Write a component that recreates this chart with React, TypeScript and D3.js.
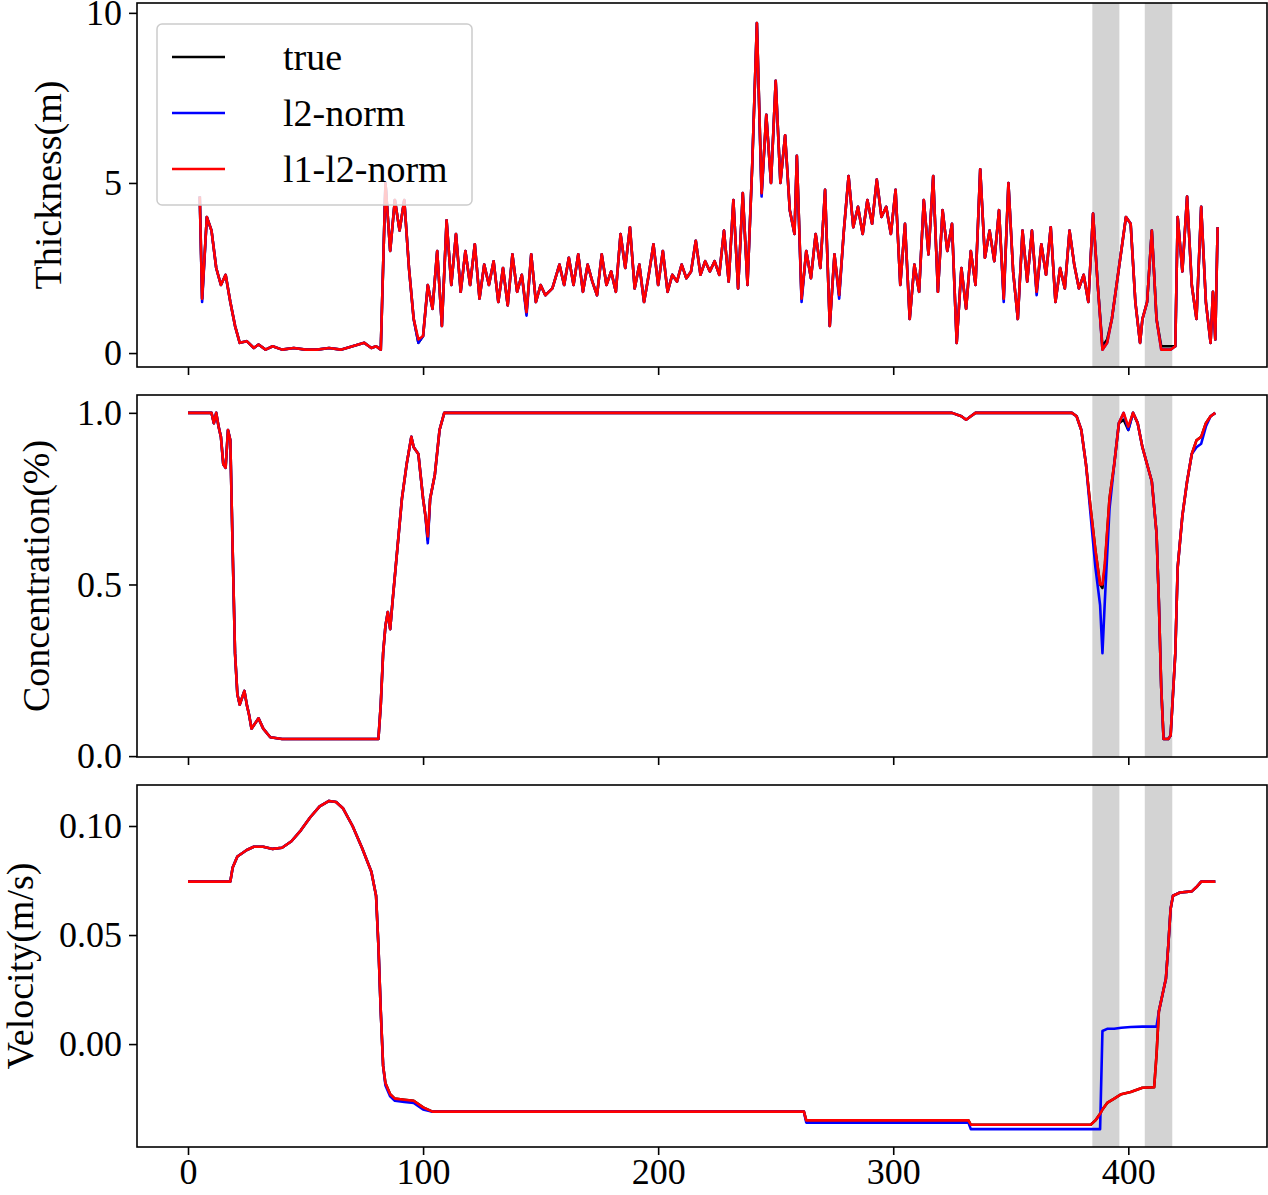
import { useEffect, useRef } from "react";
import * as d3 from "d3";

// thickness (m)
const thickX = [5,6,8,10,12,14,16,18,20,22,25,28,30,33,36,40,45,50,55,60,65,70,75,78,80,82,84,86,88,90,92,94,96,98,100,102,104,106,108,110,112,114,116,118,120,122,124,126,128,130,132,134,136,138,140,142,144,146,148,150,152,155,158,160,162,164,166,168,170,172,174,176,178,180,182,184,186,188,190,192,194,196,198,200,202,204,206,208,210,212,214,216,218,220,222,224,226,228,230,232,234,236,238,240,242,244,246,248,250,252,254,256,258,259,261,263,265,267,269,271,273,275,277,279,281,283,285,287,289,291,293,295,297,299,301,303,305,307,309,311,313,315,317,319,321,323,325,327,329,331,333,335,337,339,341,343,345,347,349,351,353,355,357,359,361,363,365,367,369,371,373,375,377,379,381,383,385,387,389,391,393,395,397,399,401,403,405,406,408,410,412,414,416,418,420,421,423,425,427,429,431,433,435,436,437,438];
const thickTrue = [4.6,1.6,4.0,3.6,2.5,2.0,2.3,1.5,0.8,0.3,0.35,0.15,0.25,0.1,0.2,0.1,0.15,0.1,0.1,0.15,0.1,0.2,0.3,0.15,0.2,0.1,5.0,3.0,4.5,3.6,4.5,2.5,1.0,0.3,0.5,2.0,1.3,3.0,0.8,3.9,2.0,3.5,1.8,3.0,2.0,3.2,1.6,2.6,2.0,2.7,1.5,2.5,1.4,2.9,1.8,2.3,1.2,2.9,1.5,2.0,1.7,1.9,2.6,2.0,2.8,2.0,2.9,1.8,2.6,2.1,1.7,2.9,2.0,2.4,1.8,3.5,2.5,3.7,1.9,2.6,1.5,2.3,3.2,2.0,3.0,1.8,2.3,2.1,2.6,2.2,2.4,3.3,2.3,2.7,2.4,2.7,2.3,3.6,2.1,4.5,1.9,4.7,2.0,5.5,9.7,4.7,7.0,5.0,8.0,5.0,6.4,4.2,3.5,5.8,1.6,3.0,2.2,3.5,2.5,4.8,0.8,2.9,1.7,3.6,5.2,3.7,4.3,3.5,4.5,3.8,5.1,4.0,4.3,3.5,4.8,2.0,3.8,1.0,2.6,1.8,4.5,2.9,5.2,1.8,4.2,3.0,3.8,0.3,2.5,1.3,3.0,2.0,5.4,2.8,3.6,2.7,4.2,1.6,5.0,2.4,1.0,3.6,2.1,3.6,1.8,3.2,2.3,3.7,1.5,2.5,1.9,3.6,2.6,1.9,2.3,1.5,4.1,2.0,0.2,0.4,1.0,2.0,3.0,4.0,3.8,1.5,0.3,1.0,1.5,3.6,1.0,0.2,0.2,0.2,0.2,4.0,2.4,4.6,2.0,1.0,4.3,1.5,0.3,1.8,0.4,3.7];
const thickL2 = [4.6,1.5,4.0,3.6,2.5,2.0,2.3,1.5,0.8,0.3,0.35,0.15,0.25,0.1,0.2,0.1,0.15,0.1,0.1,0.15,0.1,0.2,0.3,0.15,0.2,0.1,5.0,3.0,4.5,3.6,4.5,2.5,1.0,0.3,0.5,2.0,1.3,3.0,0.8,3.9,2.0,3.5,1.8,3.0,2.0,3.2,1.6,2.6,2.0,2.7,1.5,2.5,1.4,2.9,1.8,2.3,1.1,2.9,1.5,2.0,1.7,1.9,2.6,2.0,2.8,2.0,2.9,1.8,2.6,2.1,1.7,2.9,2.0,2.4,1.8,3.5,2.5,3.7,1.9,2.6,1.5,2.3,3.2,2.0,3.0,1.8,2.3,2.1,2.6,2.2,2.4,3.3,2.3,2.7,2.4,2.7,2.3,3.6,2.1,4.5,1.9,4.7,2.0,5.5,9.7,4.6,7.0,5.0,8.0,5.0,6.4,4.2,3.5,5.8,1.5,3.0,2.2,3.5,2.5,4.8,0.8,2.9,1.6,3.6,5.2,3.7,4.3,3.5,4.5,3.8,5.1,4.0,4.3,3.5,4.8,2.0,3.8,1.0,2.6,1.8,4.5,2.9,5.2,1.8,4.2,3.0,3.8,0.3,2.5,1.3,3.0,2.0,5.4,2.8,3.6,2.7,4.2,1.5,5.0,2.4,1.0,3.6,2.1,3.6,1.7,3.2,2.3,3.7,1.5,2.5,1.9,3.6,2.6,1.9,2.3,1.5,4.1,2.0,0.1,0.3,1.0,2.0,3.0,4.0,3.8,1.5,0.3,1.0,1.5,3.6,1.0,0.1,0.1,0.1,0.2,4.0,2.4,4.6,2.0,1.0,4.3,1.5,0.3,1.8,0.4,3.7];
const thickL1L2 = [4.6,1.6,4.0,3.6,2.5,2.0,2.3,1.5,0.8,0.3,0.35,0.15,0.25,0.1,0.2,0.1,0.15,0.1,0.1,0.15,0.1,0.2,0.3,0.15,0.2,0.1,5.0,3.0,4.5,3.6,4.5,2.5,1.0,0.4,0.5,2.0,1.3,3.0,0.8,3.9,2.0,3.5,1.8,3.0,2.0,3.2,1.6,2.6,2.0,2.7,1.5,2.5,1.4,2.9,1.8,2.3,1.2,2.9,1.5,2.0,1.7,1.9,2.6,2.0,2.8,2.0,2.9,1.8,2.6,2.1,1.7,2.9,2.0,2.4,1.8,3.5,2.5,3.7,1.9,2.6,1.5,2.3,3.2,2.0,3.0,1.8,2.3,2.1,2.6,2.2,2.4,3.3,2.3,2.7,2.4,2.7,2.3,3.6,2.1,4.5,1.9,4.7,2.0,5.5,9.7,4.7,7.0,5.0,8.0,5.0,6.4,4.2,3.5,5.8,1.6,3.0,2.2,3.5,2.5,4.8,0.8,2.9,1.7,3.6,5.2,3.7,4.3,3.5,4.5,3.8,5.1,4.0,4.3,3.5,4.8,2.0,3.8,1.0,2.6,1.8,4.5,2.9,5.2,1.8,4.2,3.0,3.8,0.3,2.5,1.3,3.0,2.0,5.4,2.8,3.6,2.7,4.2,1.6,5.0,2.4,1.0,3.6,2.1,3.6,1.8,3.2,2.3,3.7,1.5,2.5,1.9,3.6,2.6,1.9,2.3,1.5,4.1,2.0,0.1,0.3,1.0,2.0,3.0,4.0,3.8,1.5,0.3,1.0,1.5,3.6,1.0,0.1,0.1,0.1,0.2,4.0,2.4,4.6,2.0,1.0,4.3,1.5,0.3,1.8,0.4,3.7];

// concentration
const concX = [0,10,11,12,13,14,15,16,17,18,19,20,21,22,23,24,25,26,27,28,30,32,35,40,60,80,81,82,83,84,85,86,87,89,91,93,95,96,98,100,101,102,103,105,107,109,300,325,329,331,333,335,376,378,380,382,384,386,388,389,390,392,394,396,398,400,402,404,406,408,410,412,413,414,415,417,418,420,421,423,425,427,429,431,433,435,437];
const concTrue = [1,1,0.97,1,0.96,0.93,0.85,0.84,0.95,0.92,0.6,0.3,0.18,0.15,0.17,0.19,0.15,0.12,0.08,0.09,0.11,0.08,0.055,0.05,0.05,0.05,0.05,0.15,0.3,0.38,0.42,0.37,0.45,0.6,0.75,0.85,0.93,0.9,0.88,0.75,0.7,0.63,0.75,0.82,0.95,1,1,1,0.99,0.98,0.99,1,1,0.99,0.95,0.85,0.72,0.6,0.5,0.49,0.55,0.75,0.85,0.97,0.98,0.95,1,0.97,0.9,0.85,0.8,0.65,0.45,0.2,0.05,0.05,0.06,0.3,0.55,0.7,0.8,0.88,0.92,0.93,0.97,0.99,1];
const concL2 = [1,1,0.97,1,0.96,0.93,0.85,0.84,0.95,0.92,0.6,0.3,0.18,0.15,0.17,0.19,0.15,0.12,0.08,0.09,0.11,0.08,0.055,0.05,0.05,0.05,0.05,0.15,0.3,0.38,0.42,0.37,0.45,0.6,0.75,0.85,0.93,0.9,0.88,0.75,0.7,0.62,0.75,0.82,0.95,1,1,1,0.99,0.98,0.99,1,1,0.99,0.95,0.85,0.7,0.55,0.44,0.3,0.45,0.72,0.85,0.97,1,0.95,1,0.97,0.9,0.85,0.8,0.65,0.45,0.2,0.05,0.05,0.06,0.3,0.55,0.7,0.8,0.88,0.9,0.91,0.96,0.99,1];
const concL1L2 = [1,1,0.97,1,0.96,0.93,0.85,0.84,0.95,0.92,0.6,0.3,0.18,0.15,0.17,0.19,0.15,0.12,0.08,0.09,0.11,0.08,0.055,0.05,0.05,0.05,0.05,0.15,0.3,0.38,0.42,0.37,0.45,0.6,0.75,0.85,0.93,0.9,0.88,0.75,0.7,0.64,0.75,0.82,0.95,1,1,1,0.99,0.98,0.99,1,1,0.99,0.95,0.85,0.72,0.6,0.5,0.5,0.56,0.75,0.85,0.97,1,0.96,1,0.97,0.9,0.85,0.8,0.65,0.45,0.2,0.05,0.05,0.06,0.3,0.55,0.7,0.8,0.88,0.92,0.93,0.97,0.99,1];

// velocity (m/s)
const velX = [0,18,19,21,25,28,32,36,40,44,48,52,56,60,63,66,70,74,78,80,81,82,83,84,86,88,92,96,100,104,262,263,332,333,384,386,388,389,391,394,397,401,406,411,412,413,415,416,417,418,419,422,427,429,431,437];
const velTrue = [0.0745,0.0745,0.081,0.086,0.089,0.0905,0.0905,0.0895,0.09,0.093,0.098,0.104,0.109,0.1115,0.111,0.108,0.1,0.09,0.079,0.068,0.045,0.015,-0.01,-0.018,-0.023,-0.025,-0.0255,-0.026,-0.029,-0.031,-0.031,-0.035,-0.035,-0.037,-0.037,-0.035,-0.032,-0.03,-0.027,-0.025,-0.023,-0.022,-0.02,-0.0198,-0.005,0.015,0.025,0.03,0.045,0.062,0.068,0.0695,0.07,0.072,0.0745,0.0745];
const velL2 = [0.0745,0.0745,0.081,0.086,0.089,0.0905,0.0905,0.0895,0.09,0.093,0.098,0.104,0.109,0.1115,0.111,0.108,0.1,0.09,0.079,0.068,0.045,0.015,-0.01,-0.019,-0.024,-0.026,-0.0265,-0.027,-0.03,-0.031,-0.031,-0.036,-0.036,-0.039,-0.039,-0.039,-0.039,0.006,0.007,0.007,0.0075,0.0078,0.008,0.008,0.008,0.015,0.025,0.03,0.045,0.062,0.068,0.0695,0.07,0.072,0.0745,0.0745];
const velL1L2 = velTrue;

const xTicks = [0, 100, 200, 300, 400];
const shaded: [number, number][] = [[384.7, 396.2], [407, 418.7]];
const seriesNames = ["true", "l2-norm", "l1-l2-norm"];
const seriesColors = ["black", "blue", "red"];

type PanelDef = {
  label: string;
  top: number;
  bottom: number;
  domain: [number, number];
  ticks: number[];
  fmt: (v: number) => string;
  x: number[];
  ys: number[][];
  labelX: number;
};

const panels: PanelDef[] = [
  { label: "Thickness(m)", top: 3, bottom: 367, domain: [-0.41, 10.29], ticks: [0, 5, 10], fmt: d3.format("d"), x: thickX, ys: [thickTrue, thickL2, thickL1L2], labelX: 48 },
  { label: "Concentration(%)", top: 395, bottom: 757, domain: [-0.0026, 1.052], ticks: [0, 0.5, 1], fmt: d3.format(".1f"), x: concX, ys: [concTrue, concL2, concL1L2], labelX: 36 },
  { label: "Velocity(m/s)", top: 785, bottom: 1147, domain: [-0.0472, 0.1188], ticks: [0, 0.05, 0.1], fmt: d3.format(".2f"), x: velX, ys: [velTrue, velL2, velL1L2], labelX: 20 },
];

export default function App() {
  const ref = useRef<SVGSVGElement | null>(null);

  useEffect(() => {
    if (!ref.current) return;
    const svg = d3.select(ref.current);
    svg.selectAll("*").remove();
    const font = "Liberation Serif, Times New Roman, serif";
    const x = d3.scaleLinear().domain([-21.7, 459]).range([137, 1267]);

    panels.forEach((p, i) => {
      const y = d3.scaleLinear().domain(p.domain).range([p.bottom, p.top]);
      const g = svg.append("g");
      const clipId = `clip${i}`;
      g.append("clipPath").attr("id", clipId).append("rect")
        .attr("x", 137).attr("y", p.top).attr("width", 1130).attr("height", p.bottom - p.top);

      shaded.forEach(([a, b]) => {
        g.append("rect").attr("x", x(a)).attr("y", p.top).attr("width", x(b) - x(a))
          .attr("height", p.bottom - p.top).attr("fill", "#d3d3d3");
      });

      const line = d3.line<number>().x((_, k) => x(p.x[k])).y((d) => y(d));
      p.ys.forEach((ys, k) => {
        g.append("path").attr("d", line(ys)).attr("fill", "none")
          .attr("stroke", seriesColors[k]).attr("stroke-width", 2.6)
          .attr("stroke-linejoin", "round").attr("clip-path", `url(#${clipId})`);
      });

      g.append("rect").attr("x", 137).attr("y", p.top).attr("width", 1130)
        .attr("height", p.bottom - p.top).attr("fill", "none").attr("stroke", "black").attr("stroke-width", 1.6);

      const xa = g.append("g").attr("transform", `translate(0,${p.bottom})`)
        .call(d3.axisBottom(x).tickValues(xTicks).tickSize(8).tickPadding(3)
          .tickFormat(i === 2 ? (d3.format("d") as any) : () => ""));
      const ya = g.append("g").attr("transform", "translate(137,0)")
        .call(d3.axisLeft(y).tickValues(p.ticks).tickSize(8).tickPadding(7).tickFormat(p.fmt as any));
      [xa, ya].forEach((a) => {
        a.select(".domain").remove();
        a.selectAll("line").attr("stroke-width", 1.6);
        a.selectAll("text").attr("font-family", font).attr("font-size", 36).attr("fill", "black");
      });

      g.append("text").attr("transform", `translate(${p.labelX},${(p.top + p.bottom) / 2}) rotate(-90)`)
        .attr("text-anchor", "middle").attr("dominant-baseline", "central")
        .attr("font-family", font).attr("font-size", 38).text(p.label);
    });

    // legend
    const lg = svg.append("g");
    lg.append("rect").attr("x", 157).attr("y", 24).attr("width", 315).attr("height", 181)
      .attr("rx", 5).attr("fill", "white").attr("fill-opacity", 0.8).attr("stroke", "#ccc").attr("stroke-width", 1.5);
    seriesNames.forEach((n, k) => {
      const yy = 57 + k * 56;
      lg.append("line").attr("x1", 172).attr("x2", 225).attr("y1", yy).attr("y2", yy)
        .attr("stroke", seriesColors[k]).attr("stroke-width", 2.6);
      lg.append("text").attr("x", 283).attr("y", yy).attr("dominant-baseline", "central")
        .attr("font-family", font).attr("font-size", 38).text(n);
    });
  }, []);

  return (
    <svg ref={ref} width={1268} height={1195}
      style={{ position: "absolute", left: 0, top: 0, background: "white" }} />
  );
}
